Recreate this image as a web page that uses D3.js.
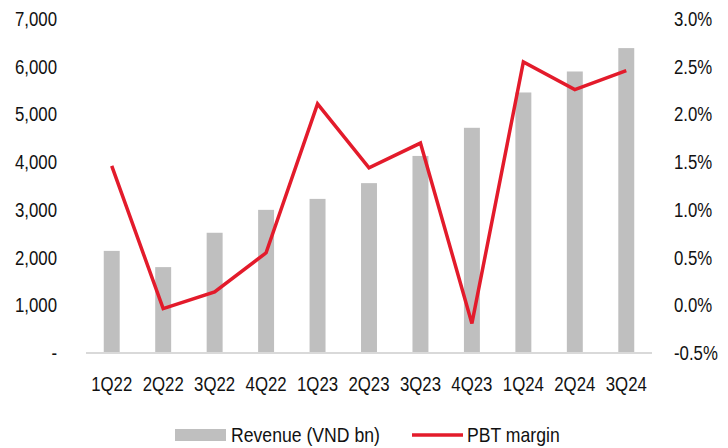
<!DOCTYPE html>
<html>
<head>
<meta charset="utf-8">
<script src="https://cdn.jsdelivr.net/npm/d3@7"></script>
<style>
    body { margin: 0; background: #fff; }
    text { font-family: "Liberation Sans", Arial, sans-serif; fill: #111; }
</style>
</head>
<body>
<svg id="SvgContainer"></svg>
<script>
var quarters = ["1Q22","2Q22","3Q22","4Q22","1Q23","2Q23","3Q23","4Q23","1Q24","2Q24","3Q24"];
var revenue = [2140, 1800, 2520, 3000, 3230, 3560, 4130, 4720, 5460, 5900, 6390];
var pbtMargin = [1.46, -0.035, 0.14, 0.55, 2.11, 1.44, 1.70, -0.19, 2.55, 2.26, 2.46];
var leftTicks = [0, 1000, 2000, 3000, 4000, 5000, 6000, 7000];
var rightTicks = [-0.5, 0, 0.5, 1.0, 1.5, 2.0, 2.5, 3.0];

var width = 728;
var height = 448;
var plotLeft = 86;
var plotRight = 652;
var plotTop = 19;
var plotBottom = 353;
var fontSize = 20.5;
var squeeze = "scale(0.82,1)";
var legendSqueeze = "scale(0.86,1)";

var svg = d3.select("svg")
    .attr("width", width)
    .attr("height", height);

var x = d3.scaleBand()
    .domain(quarters)
    .range([plotLeft, plotRight])
    .paddingInner(0.69)
    .paddingOuter(0.345);

var yLeft = d3.scaleLinear()
    .domain([0, 7000])
    .range([plotBottom, plotTop]);

var yRight = d3.scaleLinear()
    .domain([-0.5, 3.0])
    .range([plotBottom, plotTop]);

// bars
svg.append("g")
    .selectAll("rect")
    .data(revenue)
    .enter()
    .append("rect")
    .attr("x", function (d, i) { return x(quarters[i]); })
    .attr("y", function (d) { return yLeft(d); })
    .attr("width", x.bandwidth())
    .attr("height", function (d) { return yLeft(0) - yLeft(d); })
    .attr("fill", "#bfbfbf");

// base line
svg.append("line")
    .attr("x1", plotLeft)
    .attr("x2", plotRight)
    .attr("y1", yLeft(0))
    .attr("y2", yLeft(0))
    .attr("stroke", "#d9d9d9")
    .attr("stroke-width", 2);

function styleTicks(g) {
    g.select(".domain").remove();
    g.selectAll("text")
        .style("font-size", fontSize + "px")
        .attr("fill", "#111")
        .attr("transform", squeeze);
}

// left axis
var leftAxis = d3.axisLeft(yLeft)
    .tickValues(leftTicks)
    .tickSize(0)
    .tickPadding(0)
    .tickFormat(function (d) { return d === 0 ? "-" : d3.format(",")(d); });

svg.append("g")
    .attr("transform", "translate(57,0)")
    .call(leftAxis)
    .call(styleTicks);

// right axis
var rightAxis = d3.axisRight(yRight)
    .tickValues(rightTicks)
    .tickSize(0)
    .tickPadding(0)
    .tickFormat(function (d) { return d3.format(".1f")(d).replace("\u2212", "-") + "%"; });

svg.append("g")
    .attr("transform", "translate(674,0)")
    .call(rightAxis)
    .call(styleTicks);

// x axis
var xAxis = d3.axisBottom(x)
    .tickSize(0)
    .tickPadding(0);

svg.append("g")
    .attr("transform", "translate(0,376.5)")
    .call(xAxis)
    .call(styleTicks);

// margin line
var line = d3.line()
    .x(function (d, i) { return x(quarters[i]) + x.bandwidth() / 2; })
    .y(function (d) { return yRight(d); });

svg.append("path")
    .datum(pbtMargin)
    .attr("d", line)
    .attr("fill", "none")
    .attr("stroke", "#e31b2b")
    .attr("stroke-width", 3.5)
    .attr("stroke-linejoin", "miter");

// legend
var legend = svg.append("g");
legend.append("rect")
    .attr("x", 175)
    .attr("y", 429)
    .attr("width", 51)
    .attr("height", 12)
    .attr("fill", "#bfbfbf");
legend.append("g")
    .attr("transform", "translate(231,442)")
    .append("text")
    .attr("transform", legendSqueeze)
    .style("font-size", fontSize + "px")
    .text("Revenue (VND bn)");
legend.append("line")
    .attr("x1", 412)
    .attr("x2", 463)
    .attr("y1", 435)
    .attr("y2", 435)
    .attr("stroke", "#e31b2b")
    .attr("stroke-width", 3.5);
legend.append("g")
    .attr("transform", "translate(467,442)")
    .append("text")
    .attr("transform", legendSqueeze)
    .style("font-size", fontSize + "px")
    .text("PBT margin");
</script>
</body>
</html>
